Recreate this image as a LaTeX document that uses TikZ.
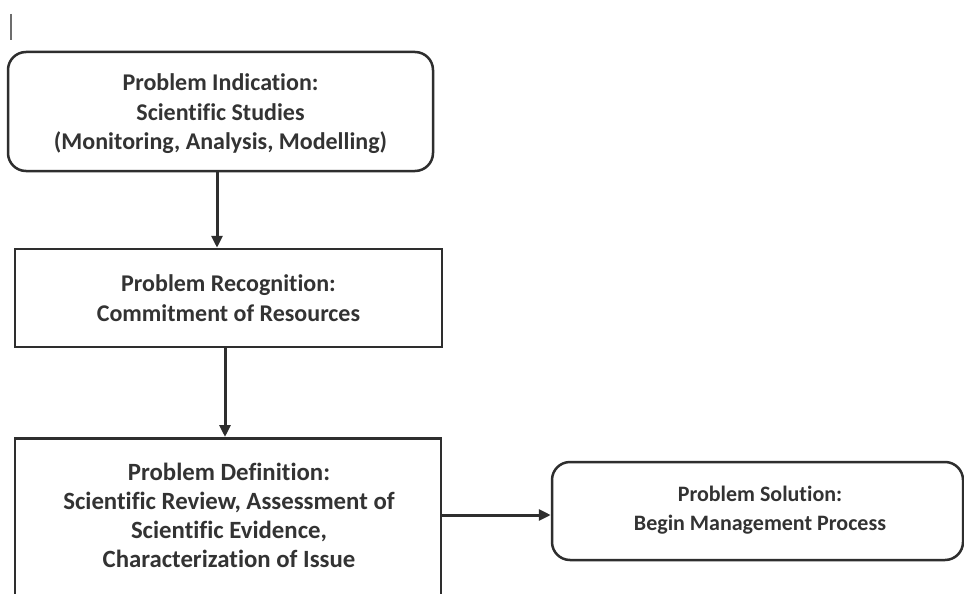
\documentclass[tikz,border=0pt]{standalone}
\usepackage{fontspec}
\setmainfont{Carlito}[Ligatures=NoCommon]
\usetikzlibrary{arrows.meta}
\definecolor{ink}{HTML}{2E2E2E}
\definecolor{txt}{HTML}{333333}
\tikzset{
  boxline/.style={draw=ink, line width=2.5pt},
  roundbox/.style={boxline, rounded corners=18pt},
  label/.style={text=txt, font=\fontsize{24}{29.5}\selectfont\bfseries, align=center, inner sep=0pt},
  biglabel/.style={label, font=\fontsize{24.8}{29}\selectfont\bfseries},
  smalllabel/.style={label, font=\fontsize{22}{29}\selectfont\bfseries},
  arr/.style={draw=ink, line width=3pt, -{Triangle[length=12pt,width=11pt]}},
}
\begin{document}
\begin{tikzpicture}[x=1pt,y=-1pt]
\useasboundingbox[fill=white] (0,0) rectangle (964,594);
% stray mark top left
\draw[ink!70, line width=1.2pt] (11,14) -- (11,40);

\node[roundbox, minimum width=425pt, minimum height=119pt, inner sep=0pt] (ind) at (220.5,111.5) {};
\node[label] (indt) at (220.5,114) {Problem Indication:\\Scientific Studies\\(Monitoring, Analysis, Modelling)};

\node[boxline, minimum width=427pt, minimum height=98pt, inner sep=0pt] (rec) at (228.5,298) {};
\node[label] (rect) at (228.5,298) {Problem Recognition:\\Commitment of Resources};

\node[boxline, minimum width=426pt, minimum height=240pt, inner sep=0pt, anchor=north] (def) at (228,437) {};
\node[biglabel] (deft) at (229,515) {Problem Definition:\\Scientific Review, Assessment of\\Scientific Evidence,\\Characterization of Issue};

\node[roundbox, minimum width=411pt, minimum height=98pt, inner sep=0pt] (sol) at (757.5,511) {};
\node[smalllabel] (solt) at (760,510) {Problem Solution:\\Begin Management Process};

\coordinate (xa) at (217,0);
\coordinate (xb) at (225,0);
\coordinate (ya) at (0,515);
\draw[arr] (ind.south -| xa) -- (rec.north -| xa);
\draw[arr] (rec.south -| xb) -- (def.north -| xb);
\draw[arr] (def.east |- ya) -- (sol.west |- ya);
\end{tikzpicture}
\end{document}
